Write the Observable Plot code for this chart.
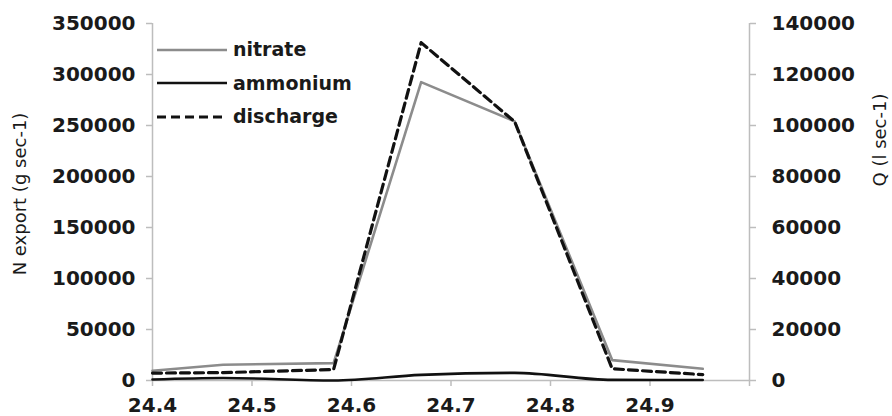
<!DOCTYPE html>
<html>
<head>
<meta charset="utf-8">
<script src="https://cdn.jsdelivr.net/npm/d3@7"></script>
<script src="https://cdn.jsdelivr.net/npm/@observablehq/plot@0.6"></script>
<style>
  body { margin: 0; background: #fff; }
  #wrap { position: relative; width: 892px; height: 416px; overflow: hidden; font-family: "DejaVu Sans", sans-serif; }
  #legend { position: absolute; left: 157px; top: 33px; }
  .item { display: flex; align-items: center; height: 33.5px; }
  .item svg { display: block; margin-right: 6px; }
  .item span { font-size: 19px; font-weight: bold; color: #1a1a1a; line-height: 1; }
</style>
</head>
<body>
<div id="wrap"></div>
<script>
// Data
const positions = [24.4, 24.471, 24.582, 24.67, 24.764, 24.862, 24.953];
const nitrate   = [9500, 15500, 17000, 292500, 254000, 20000, 11500];   // g sec-1
const ammonium  = [1000, 2500, 0, 5500, 7500, 600, 500];               // g sec-1
const discharge = [2900, 3100, 4300, 132500, 101500, 4600, 2300];      // l sec-1
const xTicks = [24.4, 24.5, 24.6, 24.7, 24.8, 24.9, 25.0];
const xTickLabels = ["24.4", "24.5", "24.6", "24.7", "24.8", "24.9", ""];
const leftTicks = [0, 50000, 100000, 150000, 200000, 250000, 300000, 350000];
const rightTicks = [0, 20000, 40000, 60000, 80000, 100000, 120000, 140000];
const seriesNames = ["nitrate", "ammonium", "discharge"];
const leftLabel = "N export (g sec-1)";
const rightLabel = "Q (l sec-1)";

const leftMax = 350000, rightMax = 140000;
const k = leftMax / rightMax; // map discharge onto the left scale

const rows = positions.map((x, i) => ({x, nitrate: nitrate[i], ammonium: ammonium[i], q: discharge[i] * k}));

const styles = {
  nitrate:   {stroke: "#8c8c8c", strokeWidth: 2.6, dash: null},
  ammonium:  {stroke: "#111111", strokeWidth: 2.6, dash: null},
  discharge: {stroke: "#111111", strokeWidth: 3.2, dash: "9,5"}
};

const axisColor = "#bdbdbd";
const textColor = "#1a1a1a";

const chart = Plot.plot({
  width: 892,
  height: 416,
  marginLeft: 152,
  marginRight: 143,
  marginTop: 23,
  marginBottom: 36,
  style: {fontFamily: "DejaVu Sans, sans-serif", background: "#fff", color: textColor},
  x: {domain: [24.4, 25.0]},
  y: {domain: [0, leftMax]},
  marks: [
    // axis lines
    Plot.ruleX([24.4], {stroke: axisColor, strokeWidth: 1.5}),
    Plot.ruleX([25.0], {y1: 0, y2: leftMax, stroke: axisColor, strokeWidth: 1.5}),
    Plot.ruleY([0], {stroke: axisColor, strokeWidth: 1.5}),
    Plot.axisX({ticks: xTicks, tickFormat: (d, i) => xTickLabels[i], tickSize: 6, tickPadding: 11, stroke: axisColor, strokeWidth: 1.5, fontSize: 20, fontWeight: "bold", fill: textColor, label: null}),
    Plot.axisY({anchor: "left", ticks: leftTicks, tickFormat: d => String(d), tickSize: 6, tickPadding: 11, stroke: axisColor, strokeWidth: 1.5, fontSize: 20, fontWeight: "bold", fill: textColor, label: null}),
    Plot.axisY({anchor: "right", ticks: rightTicks.map(d => d * k), tickFormat: d => String(Math.round(d / k)), tickSize: 6, tickPadding: 16, stroke: axisColor, strokeWidth: 1.5, fontSize: 20, fontWeight: "bold", fill: textColor, label: null}),
    // axis titles
    Plot.text([leftLabel], {frameAnchor: "left", textAnchor: "middle", rotate: -90, dx: -132, dy: -8, fontSize: 18, fill: textColor}),
    Plot.text([rightLabel], {frameAnchor: "right", textAnchor: "middle", rotate: -90, dx: 131, dy: -62, fontSize: 18, fill: textColor}),
    // series
    Plot.line(rows, {x: "x", y: "nitrate", stroke: styles.nitrate.stroke, strokeWidth: styles.nitrate.strokeWidth}),
    Plot.line(rows, {x: "x", y: "ammonium", curve: "monotone-x", stroke: styles.ammonium.stroke, strokeWidth: styles.ammonium.strokeWidth}),
    Plot.line(rows, {x: "x", y: "q", stroke: styles.discharge.stroke, strokeWidth: styles.discharge.strokeWidth, strokeDasharray: styles.discharge.dash})
  ]
});

const wrap = document.getElementById("wrap");
wrap.appendChild(chart);

// legend
const legend = document.createElement("div");
legend.id = "legend";
seriesNames.forEach(name => {
  const s = styles[name];
  const item = document.createElement("div");
  item.className = "item";
  const svg = d3.create("svg").attr("width", 70).attr("height", 6);
  svg.append("line").attr("x1", 0).attr("x2", 70).attr("y1", 3).attr("y2", 3)
    .attr("stroke", s.stroke).attr("stroke-width", s.strokeWidth)
    .attr("stroke-dasharray", s.dash);
  item.appendChild(svg.node());
  const span = document.createElement("span");
  span.textContent = name;
  item.appendChild(span);
  legend.appendChild(item);
});
wrap.appendChild(legend);
</script>
</body>
</html>
